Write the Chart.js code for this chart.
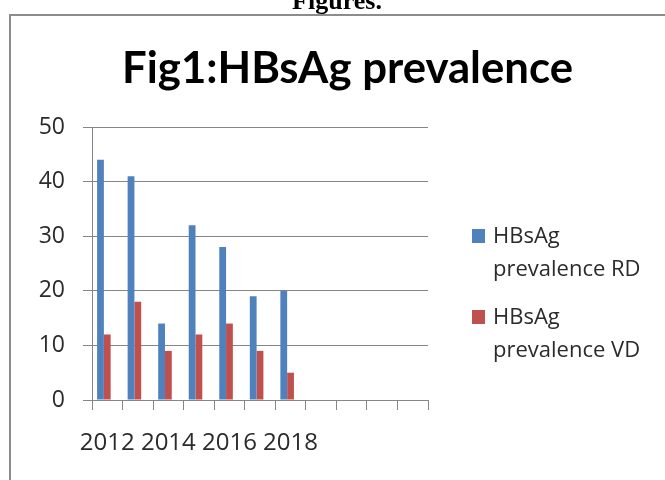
<!DOCTYPE html>
<html>
<head>
<meta charset="utf-8">
<script src="https://cdn.jsdelivr.net/npm/chart.js@4.4.1/dist/chart.umd.min.js"></script>
<style>
  html, body { margin: 0; padding: 0; background: #fff; }
  canvas { display: block; }
</style>
</head>
<body>
<canvas id="hbsChart" width="665" height="480"></canvas>
<script>
// Data
const years = ['2012', '2013', '2014', '2015', '2016', '2017', '2018', '', '', '', ''];
const rdValues = [44, 41, 14, 32, 28, 19, 20];
const vdValues = [12, 18, 9, 12, 14, 9, 5];
const emptySeries = [];  // third series in the sheet, no values
const seriesNames = ['HBsAg prevalence RD', 'HBsAg prevalence VD'];
const yTicks = [0, 10, 20, 30, 40, 50];
const titleText = 'Fig1:HBsAg prevalence';
const captionText = 'Figures.';

const blue = '#4F81BD';
const red = '#C0504D';
const gridGray = '#868686';

Chart.defaults.font.family = '"Open Sans", sans-serif';
Chart.defaults.color = '#2b2b2b';

// frame, caption, title and the two-line legend
const decor = {
  id: 'decor',
  beforeDraw(chart) {
    const ctx = chart.ctx;
    ctx.save();
    ctx.fillStyle = '#fff';
    ctx.fillRect(0, 0, chart.width, chart.height);

    ctx.strokeStyle = '#8c8c8c';
    ctx.lineWidth = 2;
    ctx.beginPath();
    ctx.moveTo(10, chart.height);
    ctx.lineTo(10, 15);
    ctx.lineTo(chart.width, 15);
    ctx.stroke();

    ctx.fillStyle = '#000';
    ctx.font = 'bold 26px "Liberation Serif"';
    ctx.textAlign = 'center';
    ctx.textBaseline = 'alphabetic';
    ctx.fillText(captionText, 337, 9);

    ctx.font = 'bold 43px Lato';
    const w = ctx.measureText(titleText).width;
    ctx.translate(347.5, 83);
    ctx.scale(451 / w, 1);
    ctx.fillText(titleText, 0, 0);
    ctx.restore();
  },
  afterDraw(chart) {
    const ctx = chart.ctx;
    ctx.save();
    ctx.font = '22px "Open Sans"';
    ctx.textAlign = 'left';
    ctx.textBaseline = 'alphabetic';
    chart.data.datasets.forEach((ds, i) => {
      if (!ds.label) return;
      const top = 229 + i * 81;
      ctx.fillStyle = ds.backgroundColor;
      ctx.fillRect(472, top, 13, 14);
      const cut = ds.label.indexOf(' ');
      ctx.fillStyle = '#2b2b2b';
      ctx.fillText(ds.label.slice(0, cut), 493, top + 14);
      ctx.fillText(ds.label.slice(cut + 1), 493, top + 47);
    });
    ctx.restore();
  }
};

new Chart(document.getElementById('hbsChart'), {
  type: 'bar',
  data: {
    labels: years,
    datasets: [
      { label: seriesNames[0], data: rdValues, backgroundColor: blue },
      { label: seriesNames[1], data: vdValues, backgroundColor: red },
      { label: '', data: emptySeries, backgroundColor: 'transparent' }
    ]
  },
  options: {
    responsive: false,
    animation: false,
    layout: { padding: { left: 0, top: 127, right: 237, bottom: 0 } },
    datasets: {
      bar: { categoryPercentage: 3 / 4.5, barPercentage: 1 }
    },
    plugins: {
      legend: { display: false },
      title: { display: false },
      tooltip: { enabled: false }
    },
    scales: {
      x: {
        afterFit: (s) => { s.height = 80; },
        grid: {
          offset: true,
          drawOnChartArea: false,
          color: gridGray,
          tickLength: 10
        },
        border: { color: gridGray },
        ticks: {
          autoSkip: false,
          maxRotation: 0,
          padding: 19,
          font: { size: 24 },
          callback: function (v, i) {
            return i % 2 === 0 ? this.getLabelForValue(v) : '';
          }
        }
      },
      y: {
        min: 0,
        max: 50,
        afterFit: (s) => { s.width = 92; },
        afterBuildTicks: (s) => { s.ticks = yTicks.map(v => ({ value: v })); },
        grid: { color: gridGray, tickLength: 9 },
        border: { color: gridGray },
        ticks: { padding: 18, font: { size: 23 } }
      }
    }
  },
  plugins: [decor]
});
</script>
</body>
</html>
